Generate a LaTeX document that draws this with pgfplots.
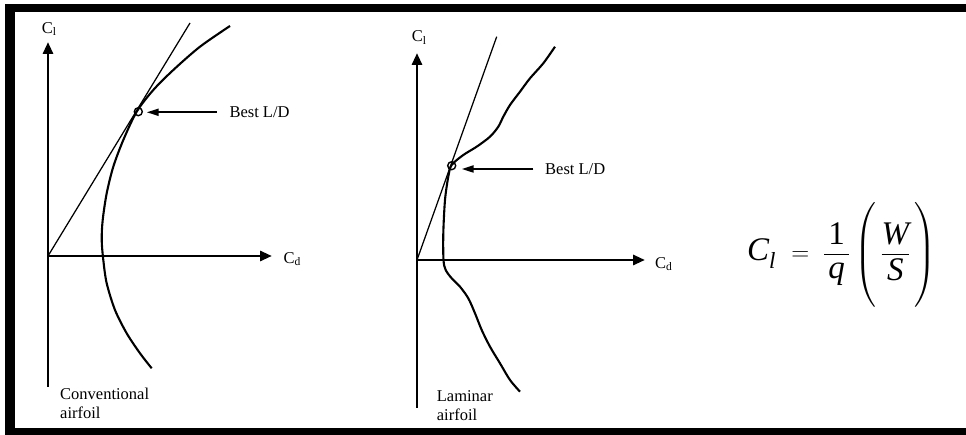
\documentclass[border=0pt]{standalone}
\usepackage{amsmath}
\usepackage{fontspec}
\setmainfont{Liberation Serif}
\usepackage{pgfplots}
\pgfplotsset{compat=1.18}
\usetikzlibrary{arrows.meta}
\pgfplotsset{
  polar/.style={
    scale only axis, anchor=south west,
    axis lines=middle, xtick=\empty, ytick=\empty, clip=false,
    axis line style={line width=2.9pt,-{Triangle[length=12pt,width=10pt]}},
    inner axis line style={line width=2.9pt,-{Triangle[length=12pt,width=10pt]}},
  },
  curve/.style={line width=2.1pt, smooth, black},
  tangent/.style={line width=1.25pt, black},
  ldpoint/.style={only marks, mark=o, mark size=4pt, black, mark options={line width=1.4pt}},
  ldarrow/.style={line width=2pt, black, -{Triangle[length=12pt,width=7pt]}},
}
\newcommand{\lbl}{\fontsize{16.5}{19}\selectfont}
\begin{document}
\begin{tikzpicture}
\useasboundingbox (0pt,0pt) rectangle (966pt,435pt);
\fill[black] (5pt,423pt) rectangle (966pt,431pt);
\fill[black] (5pt,0pt) rectangle (15pt,431pt);
\fill[black] (5pt,0pt) rectangle (966pt,7pt);

% Conventional airfoil
\begin{axis}[polar, at={(48pt,48pt)}, width=224pt, height=345pt,
  xmin=0, xmax=224, ymin=-131, ymax=214]
\addplot[tangent] coordinates {(0,0) (142,233)};
\addplot[curve] coordinates {
 (103.7,-112.3) (92,-97.3) (78.7,-77.3) (67,-54) (58.7,-27.3) (55.3,-4)
 (53.7,16) (54.7,36) (58.7,62.7) (65.3,89.3) (75.3,116) (88.7,144.3)
 (105.3,166) (125.3,186) (152,209.3) (182,230)};
\addplot[ldpoint] coordinates {(90.3,144.3)};
\addplot[ldarrow] coordinates {(168.7,143.7) (98.7,143.7)};
\node[anchor=base west, inner sep=0, font=\lbl] at (axis cs:181.3,138.7) {Best L/D};
\node[anchor=base west, inner sep=0, font=\lbl] at (axis cs:-6.3,222.7) {C\textsubscript{l}};
\node[anchor=base west, inner sep=0, font=\lbl] at (axis cs:235.3,-7.3) {C\textsubscript{d}};
\node[anchor=base west, inner sep=0, font=\lbl] at (axis cs:12,-144) {Conventional};
\node[anchor=base west, inner sep=0, font=\lbl] at (axis cs:12,-163) {airfoil};
\end{axis}

% Laminar airfoil
\begin{axis}[polar, at={(417pt,27pt)}, width=228pt, height=355pt,
  xmin=0, xmax=228, ymin=-148, ymax=207]
\addplot[tangent] coordinates {(0,0) (79.7,223.3)};
\addplot[curve] coordinates {
 (103,-131.7) (93,-120) (83,-103.3) (73,-86.7) (64.7,-70) (58,-53.3)
 (51.3,-38.3) (43,-26.7) (34.7,-18.3) (28.7,-10) (26.5,0) (26.3,26.7)
 (28,60) (31.3,83.3) (34.7,95) (46.3,105) (59.7,113.3) (73,123.3)
 (81.3,133.3) (86.3,143.3) (93,155) (103,168.3) (113,181.7) (126.3,196.7)
 (138,213.3)};
\addplot[ldpoint] coordinates {(34.7,94.3)};
\addplot[ldarrow] coordinates {(116.3,91) (44.7,91)};
\node[anchor=base west, inner sep=0, font=\lbl] at (axis cs:128,85) {Best L/D};
\node[anchor=base west, inner sep=0, font=\lbl] at (axis cs:-5.3,218.3) {C\textsubscript{l}};
\node[anchor=base west, inner sep=0, font=\lbl] at (axis cs:238,-8.3) {C\textsubscript{d}};
\node[anchor=base west, inner sep=0, font=\lbl] at (axis cs:19.7,-141.7) {Laminar};
\node[anchor=base west, inner sep=0, font=\lbl] at (axis cs:19.7,-160.7) {airfoil};
\end{axis}

\node[anchor=base west, inner sep=0, font=\fontsize{33}{40}\selectfont] at (747pt,174pt)
 {$\textit{C}_{\textit{l}} \mkern6mu = \mkern5mu \dfrac{\mkern3mu\text{1}\mkern3mu}{\textit{q}}\left(\mkern3mu\vrule height 58pt depth 42pt width 0pt\dfrac{\textit{W}}{\textit{S}}\mkern3mu\right)$};
\end{tikzpicture}
\end{document}
